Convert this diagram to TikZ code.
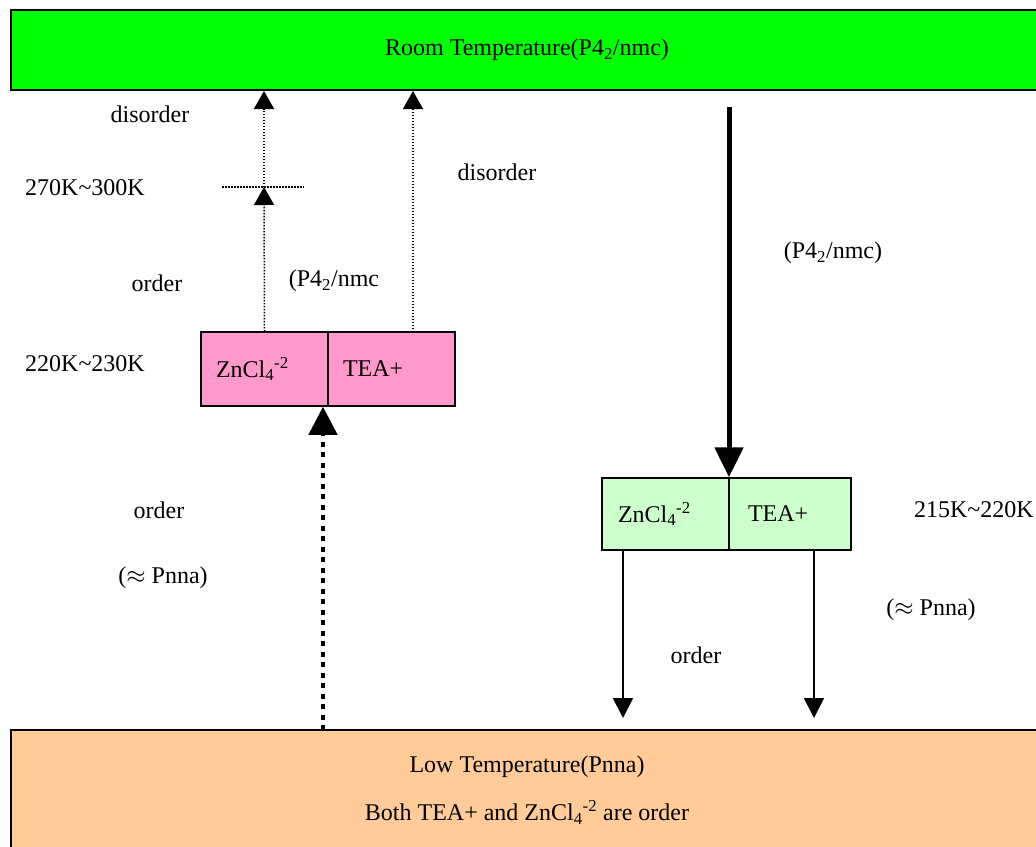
\documentclass[tikz,border=0pt]{standalone}
\usepackage{fontspec}
\setmainfont{Liberation Serif}
\usetikzlibrary{arrows.meta,calc}
\definecolor{roomgreen}{HTML}{00FF00}
\definecolor{lowpeach}{HTML}{FFCC99}
\definecolor{cellpink}{HTML}{FF99CC}
\definecolor{cellgreen}{HTML}{CCFFCC}
\newcommand{\zncl}{ZnCl\textsubscript{4}\textsuperscript{-2}}
\newcommand{\pfour}{P4\textsubscript{2}/nmc}
\begin{document}
\begin{tikzpicture}[x=1pt,y=-1pt,
  font=\fontsize{24}{28}\selectfont,
  bigbox/.style={draw, line width=2pt, minimum width=1032pt, align=center, inner sep=0pt},
  cell/.style={draw, line width=1.5pt, inner ysep=0pt, align=left},
  thindot/.style={line width=1.5pt, dash pattern=on 1.5pt off 1.5pt},
  thindotarrow/.style={thindot, -{Triangle[width=20pt,length=18pt]}},
  thickdotarrow/.style={line width=4.5pt, dash pattern=on 5pt off 5.5pt, -{Triangle[width=28pt,length=28pt]}},
  thickarrow/.style={line width=5pt, -{Triangle[width=28pt,length=30pt]}},
  thinarrow/.style={line width=1.8pt, -{Triangle[width=20pt,length=20pt]}},
  lbl/.style={inner sep=0pt}
]
\clip (0,0) rectangle (1036,846);
\fill[white] (0,0) rectangle (1036,846);

% big boxes
\node[bigbox, fill=roomgreen, minimum height=80pt] (room) at (527,50) {Room Temperature(\pfour)};
\node[bigbox, fill=lowpeach, minimum height=120pt] (low) at (527,790)
  {Low Temperature(Pnna)\\[20pt]Both TEA+ and \zncl{} are order};

% pink cells
\node[cell, fill=cellpink, minimum height=74pt, text width=97pt, inner xsep=15pt] (pinkL) at (264.5,369) {\zncl};
\node[cell, fill=cellpink, minimum height=74pt, text width=97pt, inner xsep=15pt] (pinkR) at (391.5,369) {TEA+};

% light green cells
\node[cell, fill=cellgreen, minimum height=72pt, text width=95pt, inner xsep=16pt] (lgL) at (665.5,514) {\zncl};
\node[cell, fill=cellgreen, minimum height=72pt, text width=84pt, inner xsep=19pt] (lgR) at (790,514) {TEA+};

% coordinates
\coordinate (cross) at (264,187);
\coordinate (crossL) at (222,187);
\coordinate (crossR) at (304,187);
\coordinate (upR) at (413,332);
\coordinate (b1) at (323,730);
\coordinate (s1) at (729,107);
\coordinate (d1) at (623,718);
\coordinate (d2) at (814,718);

% left dotted arrows
\draw[thindotarrow] (pinkL.north) -- (cross);
\draw[thindotarrow] (cross) -- (cross |- room.south);
\draw[thindot] (crossL) -- (crossR);
\draw[thindotarrow] (upR) -- (upR |- room.south);

% thick dotted arrow
\draw[thickdotarrow] (b1) -- (b1 |- pinkL.south);

% thick solid arrow
\draw[thickarrow] (s1) -- (s1 |- lgL.north);

% thin down arrows
\draw[thinarrow] (d1 |- lgL.south) -- (d1);
\draw[thinarrow] (d2 |- lgR.south) -- (d2);

% labels
\node[lbl] (t1) at (150,114) {disorder};
\node[lbl] (t2) at (85,188) {270K\textasciitilde300K};
\node[lbl] (t3) at (157,283) {order};
\node[lbl] (t4) at (334,281) {(\pfour};
\node[lbl] (t5) at (497,172) {disorder};
\node[lbl] (t6) at (833,253) {(\pfour)};
\node[lbl] (t7) at (85,364) {220K\textasciitilde230K};
\node[lbl] (t8) at (159,510) {order};
\node[lbl] (t9) at (163,578) {($\approx$ Pnna)};
\node[lbl, anchor=east] (t10) at (1034,510) {215K\textasciitilde220K};
\node[lbl] (t11) at (931,610) {($\approx$ Pnna)};
\node[lbl] (t12) at (696,655) {order};
\end{tikzpicture}
\end{document}
